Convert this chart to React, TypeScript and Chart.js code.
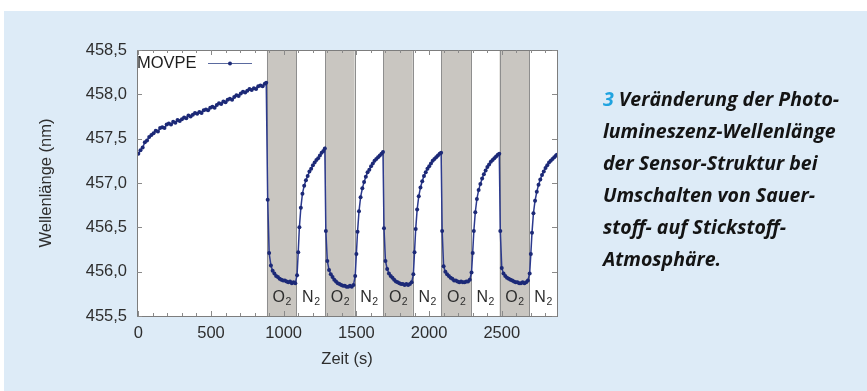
import React, { useEffect, useRef } from "react";
import { Chart, registerables } from "chart.js";

Chart.register(...registerables);

// ---------- DATA ----------
const growthTimes = [
  0, 15, 30, 45, 60, 75, 90, 105, 120, 135, 150, 165, 180, 195, 210, 225, 240, 255, 270, 285,
  300, 315, 330, 345, 360, 375, 390, 405, 420, 435, 450, 465, 480, 495, 510, 525, 540, 555, 570, 585,
  600, 615, 630, 645, 660, 675, 690, 705, 720, 735, 750, 765, 780, 795, 810, 825, 840, 855, 870, 880,
];
const growthValues = [
  457.33, 457.37, 457.4, 457.46, 457.48, 457.52, 457.54, 457.56, 457.59, 457.58, 457.62, 457.63, 457.62, 457.66, 457.67, 457.66, 457.69, 457.68, 457.71, 457.7,
  457.72, 457.74, 457.73, 457.76, 457.75, 457.77, 457.79, 457.78, 457.8, 457.79, 457.82, 457.83, 457.82, 457.85, 457.86, 457.85, 457.88, 457.9, 457.89, 457.92,
  457.91, 457.94, 457.95, 457.94, 457.97, 457.99, 457.98, 458.01, 458.03, 458.02, 458.04, 458.06, 458.05, 458.07, 458.06, 458.09, 458.1, 458.09, 458.12, 458.13,
];

const cycle1Times = [
  890, 900, 912, 924, 936, 948, 960, 972, 984, 996, 1008, 1020, 1032, 1044, 1056, 1068, 1080,
  1092, 1100, 1108, 1118, 1129, 1141, 1153, 1165, 1177, 1189, 1201, 1213, 1225, 1237, 1249, 1261, 1273, 1283,
];
const cycle1Values = [
  456.81, 456.21, 456.07, 456.01, 455.98, 455.95, 455.94, 455.92, 455.91, 455.9, 455.9, 455.89, 455.88, 455.89, 455.87, 455.88, 455.87,
  455.96, 456.22, 456.5, 456.72, 456.88, 456.97, 457.03, 457.08, 457.13, 457.16, 457.2, 457.23, 457.26, 457.28, 457.31, 457.34, 457.36, 457.39,
];
const cycle2Times = [
  1290, 1300, 1312, 1324, 1336, 1348, 1360, 1372, 1384, 1396, 1408, 1420, 1432, 1444, 1456, 1468, 1480,
  1492, 1500, 1508, 1518, 1529, 1541, 1553, 1565, 1577, 1589, 1601, 1613, 1625, 1637, 1649, 1661, 1673, 1683,
];
const cycle2Values = [
  456.46, 456.12, 456.02, 455.97, 455.94, 455.91, 455.89, 455.87, 455.86, 455.85, 455.84, 455.84, 455.83, 455.83, 455.84, 455.83, 455.85,
  455.95, 456.2, 456.45, 456.68, 456.84, 456.94, 457.01, 457.07, 457.12, 457.15, 457.19, 457.22, 457.25, 457.27, 457.29, 457.31, 457.33, 457.35,
];
const cycle3Times = [
  1690, 1700, 1712, 1724, 1736, 1748, 1760, 1772, 1784, 1796, 1808, 1820, 1832, 1844, 1856, 1868, 1880,
  1892, 1900, 1908, 1918, 1929, 1941, 1953, 1965, 1977, 1989, 2001, 2013, 2025, 2037, 2049, 2061, 2073, 2083,
];
const cycle3Values = [
  456.49, 456.12, 456.03, 455.98, 455.95, 455.93, 455.91, 455.89, 455.88, 455.87, 455.86, 455.86, 455.85, 455.86, 455.85, 455.86, 455.88,
  455.97, 456.22, 456.48, 456.7, 456.85, 456.95, 457.02, 457.08, 457.12, 457.16, 457.19, 457.22, 457.25, 457.27, 457.29, 457.31, 457.33, 457.34,
];
const cycle4Times = [
  2090, 2100, 2112, 2124, 2136, 2148, 2160, 2172, 2184, 2196, 2208, 2220, 2232, 2244, 2256, 2268, 2280,
  2292, 2300, 2308, 2318, 2329, 2341, 2353, 2365, 2377, 2389, 2401, 2413, 2425, 2437, 2449, 2461, 2473, 2483,
];
const cycle4Values = [
  456.46, 456.06, 456.0, 455.97, 455.95, 455.93, 455.92, 455.9, 455.9, 455.89, 455.88, 455.89, 455.88, 455.88, 455.89, 455.89, 455.91,
  455.99, 456.21, 456.46, 456.67, 456.82, 456.92, 456.99, 457.05, 457.1, 457.14, 457.18, 457.21, 457.24, 457.26, 457.28, 457.3, 457.32, 457.33,
];
const cycle5Times = [
  2490, 2500, 2512, 2524, 2536, 2548, 2560, 2572, 2584, 2596, 2608, 2620, 2632, 2644, 2656, 2668, 2680,
  2692, 2700, 2708, 2718, 2729, 2741, 2753, 2765, 2777, 2789, 2801, 2813, 2825, 2837, 2849, 2861, 2873, 2880,
];
const cycle5Values = [
  456.46, 456.04, 455.98, 455.95, 455.93, 455.92, 455.91, 455.9, 455.89, 455.88, 455.88, 455.87, 455.87, 455.88, 455.87, 455.88, 455.9,
  455.98, 456.2, 456.44, 456.66, 456.8, 456.9, 456.98, 457.04, 457.09, 457.13, 457.17, 457.2, 457.23, 457.25, 457.27, 457.29, 457.31, 457.32,
];

// gas switching phases (s)
const o2Starts = [885, 1285, 1685, 2085, 2485];
const o2Ends = [1088, 1488, 1888, 2288, 2688];
const n2Starts = [1088, 1488, 1888, 2288, 2688];
const n2Ends = [1285, 1685, 2085, 2485, 2880];

const xTicks = [0, 500, 1000, 1500, 2000, 2500];
const yTicks = [455.5, 456.0, 456.5, 457.0, 457.5, 458.0, 458.5];

const seriesLabel = "MOVPE";
const xTitle = "Zeit (s)";
const yTitle = "Wellenlänge (nm)";

const captionNumber = "3";
const captionLines = [
  "Veränderung der Photo-",
  "lumineszenz-Wellenlänge",
  "der Sensor-Struktur bei",
  "Umschalten von Sauer-",
  "stoff- auf Stickstoff-",
  "Atmosphäre.",
];

// ---------- STYLE ----------
const FONT = "'Liberation Sans', Arial, Helvetica, sans-serif";
const LINE_COLOR = "#2c3a8e";
const POINT_COLOR = "#1c2977";
const TEXT_COLOR = "#2e2e2e";

const allTimes = [growthTimes, cycle1Times, cycle2Times, cycle3Times, cycle4Times, cycle5Times];
const allValues = [growthValues, cycle1Values, cycle2Values, cycle3Values, cycle4Values, cycle5Values];

function buildPoints() {
  const pts: { x: number; y: number }[] = [];
  allTimes.forEach((ts, k) => {
    ts.forEach((t, i) => pts.push({ x: t, y: allValues[k][i] }));
  });
  return pts;
}

const decorPlugin = {
  id: "decor",
  beforeDatasetsDraw(chart: any) {
    const { ctx, chartArea: a, scales } = chart;
    const x = scales.x;
    ctx.save();
    ctx.fillStyle = "#ffffff";
    ctx.fillRect(a.left, a.top, a.right - a.left, a.bottom - a.top);
    o2Starts.forEach((s, i) => {
      const x0 = x.getPixelForValue(s);
      const x1 = x.getPixelForValue(o2Ends[i]);
      ctx.fillStyle = "#c9c6c1";
      ctx.fillRect(x0, a.top, x1 - x0, a.bottom - a.top);
      ctx.strokeStyle = "#8e8e8e";
      ctx.lineWidth = 1;
      ctx.beginPath();
      ctx.moveTo(Math.round(x0) + 0.5, a.top);
      ctx.lineTo(Math.round(x0) + 0.5, a.bottom);
      ctx.moveTo(Math.round(x1) + 0.5, a.top);
      ctx.lineTo(Math.round(x1) + 0.5, a.bottom);
      ctx.stroke();
    });
    const drawGas = (letter: string, cx: number) => {
      ctx.font = `16px ${FONT}`;
      const w1 = ctx.measureText(letter).width;
      ctx.font = `10.5px ${FONT}`;
      const w2 = ctx.measureText("2").width;
      const left = cx - (w1 + w2) / 2;
      ctx.fillStyle = TEXT_COLOR;
      ctx.textBaseline = "alphabetic";
      ctx.textAlign = "left";
      ctx.font = `16px ${FONT}`;
      ctx.fillText(letter, left, 302);
      ctx.font = `10.5px ${FONT}`;
      ctx.fillText("2", left + w1 + 0.5, 305);
    };
    o2Starts.forEach((s, i) => drawGas("O", (x.getPixelForValue(s) + x.getPixelForValue(o2Ends[i])) / 2));
    n2Starts.forEach((s, i) => drawGas("N", (x.getPixelForValue(s) + x.getPixelForValue(n2Ends[i])) / 2));
    ctx.restore();
  },
  afterDatasetsDraw(chart: any) {
    const { ctx, chartArea: a, scales } = chart;
    const x = scales.x;
    const y = scales.y;
    ctx.save();
    ctx.strokeStyle = "#7d7d7d";
    ctx.lineWidth = 1;
    ctx.strokeRect(Math.round(a.left) + 0.5, Math.round(a.top) + 0.5, Math.round(a.right - a.left), Math.round(a.bottom - a.top));
    ctx.strokeStyle = "#8a8a8a";
    ctx.beginPath();
    for (let t = 0; t <= 2800; t += 100) {
      const px = Math.round(x.getPixelForValue(t)) + 0.5;
      const len = t % 500 === 0 ? 5 : 3;
      ctx.moveTo(px, a.bottom);
      ctx.lineTo(px, a.bottom - len);
      ctx.moveTo(px, a.top);
      ctx.lineTo(px, a.top + len);
    }
    yTicks.forEach((v) => {
      const py = Math.round(y.getPixelForValue(v)) + 0.5;
      ctx.moveTo(a.left, py);
      ctx.lineTo(a.left + 5, py);
      ctx.moveTo(a.right, py);
      ctx.lineTo(a.right - 5, py);
    });
    ctx.stroke();
    // legend
    const ly = 63;
    ctx.fillStyle = "#1e1e1e";
    ctx.font = `16.5px ${FONT}`;
    ctx.textAlign = "left";
    ctx.textBaseline = "middle";
    ctx.fillText(seriesLabel, a.left, ly);
    ctx.strokeStyle = "#5a6a9f";
    ctx.lineWidth = 1;
    ctx.beginPath();
    ctx.moveTo(208, ly + 0.5);
    ctx.lineTo(252, ly + 0.5);
    ctx.stroke();
    ctx.fillStyle = POINT_COLOR;
    ctx.beginPath();
    ctx.arc(230, ly + 0.5, 2, 0, Math.PI * 2);
    ctx.fill();
    // axis titles
    ctx.fillStyle = TEXT_COLOR;
    ctx.font = `16.5px ${FONT}`;
    ctx.textAlign = "center";
    ctx.textBaseline = "middle";
    ctx.fillText(xTitle, (a.left + a.right) / 2, 359);
    ctx.translate(46, (a.top + a.bottom) / 2);
    ctx.rotate(-Math.PI / 2);
    ctx.fillText(yTitle, 0, 0);
    ctx.restore();
  },
};

function ChartCanvas() {
  const ref = useRef<HTMLCanvasElement | null>(null);
  useEffect(() => {
    if (!ref.current) return;
    const chart = new Chart(ref.current, {
      type: "line",
      data: {
        datasets: [
          {
            label: seriesLabel,
            data: buildPoints(),
            borderColor: LINE_COLOR,
            borderWidth: 1.5,
            pointRadius: 2,
            pointBackgroundColor: POINT_COLOR,
            pointBorderWidth: 0,
            tension: 0,
            fill: false,
          },
        ],
      },
      options: {
        responsive: false,
        animation: false,
        devicePixelRatio: 1,
        layout: { padding: { left: 0, right: 310, top: 50, bottom: 0 } },
        plugins: { legend: { display: false }, tooltip: { enabled: false } },
        scales: {
          x: {
            type: "linear",
            min: -9,
            max: 2880,
            afterFit: (s: any) => {
              s.height = 75;
            },
            afterBuildTicks: (s: any) => {
              s.ticks = xTicks.map((v) => ({ value: v }));
            },
            grid: { display: false, drawTicks: false },
            border: { display: false },
            ticks: {
              padding: 8,
              color: TEXT_COLOR,
              font: { family: FONT, size: 16.5 },
              maxRotation: 0,
              autoSkip: false,
              callback: (v: any) => String(v),
            },
          },
          y: {
            type: "linear",
            min: 455.5,
            max: 458.5,
            afterFit: (s: any) => {
              s.width = 137;
            },
            afterBuildTicks: (s: any) => {
              s.ticks = yTicks.map((v) => ({ value: v }));
            },
            grid: { display: false, drawTicks: false },
            border: { display: false },
            ticks: {
              padding: 10,
              color: TEXT_COLOR,
              font: { family: FONT, size: 16.5 },
              autoSkip: false,
              callback: (v: any) => Number(v).toFixed(1).replace(".", ","),
            },
          },
        },
      },
      plugins: [decorPlugin],
    });
    return () => chart.destroy();
  }, []);
  return (
    <canvas
      ref={ref}
      width={867}
      height={391}
      style={{ position: "absolute", left: 0, top: 0, width: 867, height: 391, display: "block" }}
    />
  );
}

export default function App() {
  return (
    <div style={{ position: "fixed", left: 0, top: 0, width: 867, height: 391, background: "#ffffff", overflow: "hidden" }}>
      <div style={{ position: "absolute", left: 4, top: 11, right: 0, bottom: 0, background: "#ddebf7" }} />
      <ChartCanvas />
      <div
        style={{
          position: "absolute",
          left: 603,
          top: 83,
          fontFamily: "'Open Sans', 'DejaVu Sans', sans-serif",
          fontStyle: "italic",
          fontWeight: 700,
          fontSize: 19.5,
          lineHeight: "32px",
          color: "#141414",
          whiteSpace: "nowrap",
        }}
      >
        {captionLines.map((line, i) => (
          <div key={i}>
            {i === 0 ? (
              <>
                <span style={{ color: "#1fa3e0" }}>{captionNumber}</span>{" "}
              </>
            ) : null}
            {line}
          </div>
        ))}
      </div>
    </div>
  );
}
